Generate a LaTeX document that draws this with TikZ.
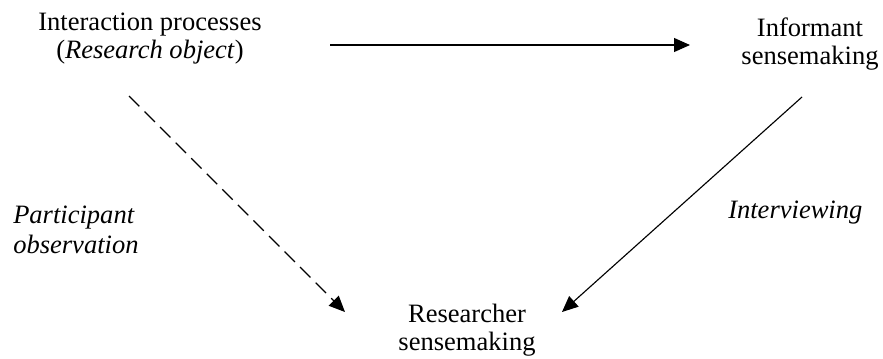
\documentclass[tikz,border=0pt]{standalone}
\usepackage{fontspec}
\setmainfont{Liberation Serif}
\usetikzlibrary{arrows.meta}
\begin{document}
\begin{tikzpicture}[x=0.75pt,y=-0.75pt,
  label text/.style={inner sep=0pt, anchor=base, align=center,
    font=\fontsize{19.9}{20.6}\selectfont},
  side text/.style={inner sep=0pt, anchor=base west, align=left,
    font=\fontsize{19.9}{22.5}\selectfont\itshape},
  link/.style={line width=0.85pt, -{Triangle[length=12pt,width=10.5pt]}},
  observe/.style={link, dash pattern=on 11pt off 5.5pt}]
  \useasboundingbox (0,0) rectangle (883,358);

  % the three sensemaking stages (base = baseline of the last line)
  \node[label text] (ip)  at (150,58)  {Interaction processes\\(\textit{Research object})};
  \node[label text] (inf) at (810,64)  {Informant\\sensemaking};
  \node[label text] (rs)  at (467,350) {Researcher\\sensemaking};

  % method labels
  \node[side text] (po) at (13,253) {Participant\\observation};
  \node[side text] (iv) at (728,218) {Interviewing};

  % connectors
  \draw[link]    ([shift={(180,-13)}]ip.base)  -- ([shift={(-120,-19)}]inf.base);
  \draw[observe] ([shift={(-21,38)}]ip.base)   -- ([shift={(-122,-38)}]rs.base);
  \draw[link]    ([shift={(-8,33)}]inf.base)   -- ([shift={(95,-38)}]rs.base);
\end{tikzpicture}
\end{document}
